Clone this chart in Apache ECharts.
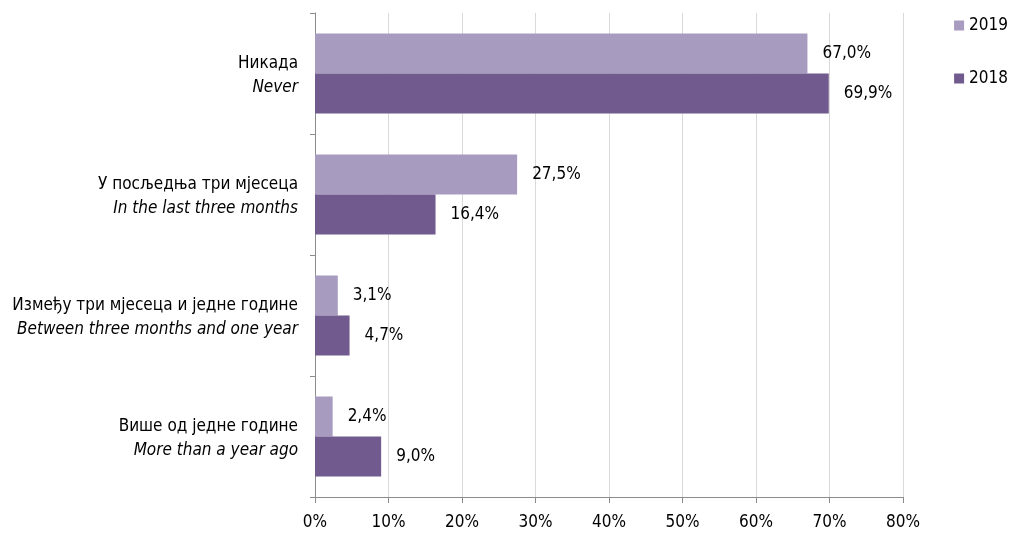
<!DOCTYPE html>
<html><head><meta charset="utf-8">
<script src="https://cdn.jsdelivr.net/npm/echarts@6/dist/echarts.min.js"></script>
<style>html,body{margin:0;padding:0;background:#fff}#c{width:1014px;height:533px}</style>
</head><body><div id="c"></div>
<script>
const categoriesSr = ['Никада', 'У посљедња три мјесеца', 'Између три мјесеца и једне године', 'Више од једне године'];
const categoriesEn = ['Never', 'In the last three months', 'Between three months and one year', 'More than a year ago'];
const values2019 = [67.0, 27.5, 3.1, 2.4];
const values2018 = [69.9, 16.4, 4.7, 9.0];
const seriesNames = ['2019', '2018'];

const FONT = '"Liberation Sans Narrow", "DejaVu Sans Condensed", "Liberation Sans", sans-serif';
const chart = echarts.init(document.getElementById('c'));
const cats = categoriesSr.map((s, i) => s + '\n' + categoriesEn[i]);
const fmt = v => v.toFixed(1).replace('.', ',') + '%';
const lbl = {show: true, position: 'right', distance: 15, color: '#000', fontFamily: FONT, fontSize: 17,
  formatter: p => fmt(p.value)};
chart.setOption({
  animation: false,
  textStyle: {fontFamily: FONT},
  grid: {left: 315, right: 111, top: 13, bottom: 36},
  legend: {
    orient: 'vertical', right: 1, top: 12, itemGap: 36, itemWidth: 10, itemHeight: 10,
    icon: 'rect', textStyle: {fontFamily: FONT, fontSize: 17, color: '#000'},
    data: seriesNames
  },
  xAxis: {
    type: 'value', min: 0, max: 80, interval: 10,
    axisLine: {show: true, lineStyle: {color: '#8c8c8c'}},
    axisTick: {show: true, length: 6, lineStyle: {color: '#8c8c8c'}},
    splitLine: {show: true, lineStyle: {color: '#d9d9d9'}},
    axisLabel: {color: '#000', fontSize: 17, fontFamily: FONT, margin: 17, formatter: v => v + '%'}
  },
  yAxis: {
    type: 'category', inverse: true, data: cats,
    axisLine: {show: true, lineStyle: {color: '#8c8c8c'}},
    axisTick: {show: true, length: 5, lineStyle: {color: '#8c8c8c'}},
    axisLabel: {
      margin: 17, align: 'right', padding: [4, 0, 0, 0],
      formatter: v => { const [a, b] = v.split('\n'); return '{a|' + a + '}\n{b|' + b + '}'; },
      rich: {
        a: {fontFamily: FONT, fontSize: 17, color: '#000', lineHeight: 24, align: 'right'},
        b: {fontFamily: FONT, fontSize: 17, color: '#000', fontStyle: 'italic', lineHeight: 24, align: 'right'}
      }
    }
  },
  series: [
    {name: seriesNames[0], type: 'bar', data: values2019, barWidth: 40, barGap: '0%',
     itemStyle: {color: '#a89bc0'}, label: lbl},
    {name: seriesNames[1], type: 'bar', data: values2018, barWidth: 40, barGap: '0%',
     itemStyle: {color: '#715a8e'}, label: lbl}
  ]
});
</script></body></html>
